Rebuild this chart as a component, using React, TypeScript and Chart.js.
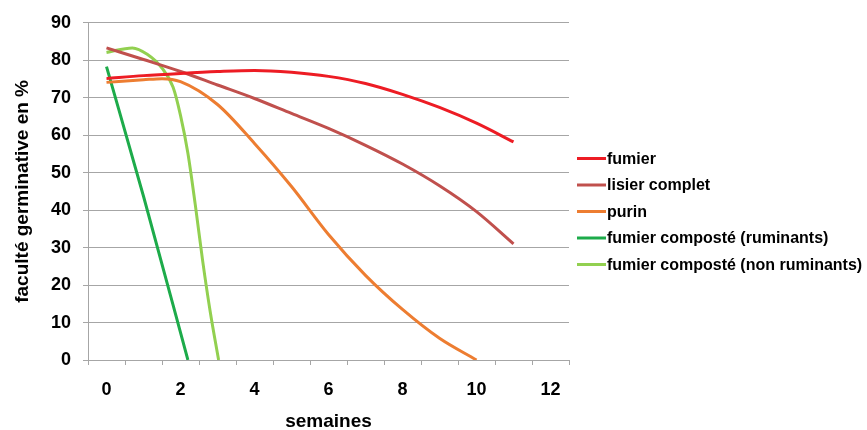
import React, { useEffect, useRef } from "react";
import { Chart, registerables } from "chart.js";

Chart.register(...registerables);

// ---- data ----
const seriesNames = [
  "fumier",
  "lisier complet",
  "purin",
  "fumier composté (ruminants)",
  "fumier composté (non ruminants)",
];
const seriesColors = ["#ED1C24", "#C0504D", "#ED7D31", "#1DAB4A", "#92D050"];

const fumierWeeks = [0, 1, 2, 3, 4, 5, 6, 7, 8, 9, 10, 11];
const fumierValues = [75.1, 75.9, 76.5, 77.0, 77.3, 76.8, 75.7, 73.8, 70.9, 67.4, 63.2, 58.2];

const lisierWeeks = [0, 1, 2, 3, 4, 5, 6, 7, 8, 9, 10, 11];
const lisierValues = [83.3, 80.2, 77.0, 73.4, 69.8, 65.8, 61.8, 57.3, 52.3, 46.5, 39.6, 31.0];

const purinWeeks = [0, 1, 1.5, 2, 3, 4, 5, 6, 7, 8, 9, 10];
const purinValues = [74.1, 74.8, 75.1, 74.3, 68.2, 57.8, 46.3, 33.5, 22.6, 13.5, 5.8, 0];

const rumWeeks = [0, 1, 2.2];
const rumValues = [78.3, 43.7, 0];

const nonRumWeeks = [0, 0.7, 1.1, 1.5, 1.8, 2, 2.2, 2.4, 2.6, 2.8, 3.03];
const nonRumValues = [82.1, 83.3, 81.6, 77.9, 72.8, 65.3, 55.2, 41.4, 26.4, 13.1, 0];

const xLabelValues = [0, 2, 4, 6, 8, 10, 12];
const yTickValues = [0, 10, 20, 30, 40, 50, 60, 70, 80, 90];

const xTitle = "semaines";
const yTitle = "faculté germinative en %";

const seriesWeeks = [fumierWeeks, lisierWeeks, purinWeeks, rumWeeks, nonRumWeeks];
const seriesValues = [fumierValues, lisierValues, purinValues, rumValues, nonRumValues];

const FONT = '"Liberation Sans", Arial, Helvetica, sans-serif';
const GRID = "#A6A6A6";

const rightLegend = {
  id: "rightLegend",
  afterDraw(chart: any) {
    const ctx = chart.ctx;
    const x0 = chart.chartArea.right + 8;
    ctx.save();
    ctx.font = `bold 16px ${FONT}`;
    ctx.textBaseline = "middle";
    ctx.textAlign = "left";
    chart.data.datasets.forEach((ds: any, i: number) => {
      const y = 158.5 + i * 26.5;
      ctx.strokeStyle = ds.borderColor;
      ctx.lineWidth = 3;
      ctx.lineCap = "butt";
      ctx.beginPath();
      ctx.moveTo(x0, y);
      ctx.lineTo(x0 + 29, y);
      ctx.stroke();
      ctx.fillStyle = "#000";
      ctx.fillText(ds.label, x0 + 30, y + 1);
    });
    ctx.restore();
  },
};

export default function App() {
  const ref = useRef<HTMLCanvasElement | null>(null);

  useEffect(() => {
    if (!ref.current) return;
    const datasets = seriesNames.map((name, i) => ({
      label: name,
      data: seriesWeeks[i].map((w, j) => ({ x: w, y: seriesValues[i][j] })),
      borderColor: seriesColors[i],
      backgroundColor: seriesColors[i],
      borderWidth: 3,
      pointRadius: 0,
      cubicInterpolationMode: "monotone",
      fill: false,
    }));

    const chart = new Chart(ref.current, {
      type: "line",
      data: { datasets },
      plugins: [rightLegend],
      options: {
        animation: false,
        responsive: true,
        maintainAspectRatio: false,
        layout: { padding: { top: 17, right: 298, bottom: 0, left: 0 } },
        plugins: {
          legend: { display: false },
          tooltip: { enabled: false },
        },
        scales: {
          x: {
            type: "linear",
            min: -0.5,
            max: 12.5,
            afterBuildTicks: (scale: any) => {
              const t: any[] = [];
              for (let k = -1; k <= 25; k++) t.push({ value: k / 2 });
              scale.ticks = t;
            },
            afterFit: (scale: any) => {
              scale.height = 70;
            },
            ticks: {
              autoSkip: false,
              maxRotation: 0,
              padding: 14,
              color: "#000",
              font: { family: FONT, size: 18, weight: "bold" },
              callback: (v: any) => (xLabelValues.includes(Number(v)) ? String(v) : ""),
            },
            grid: {
              drawOnChartArea: false,
              drawTicks: true,
              tickLength: 5,
              color: (c: any) =>
                c.tick && Number.isInteger(c.tick.value) ? "rgba(0,0,0,0)" : GRID,
            },
            border: { display: true, color: GRID, width: 1 },
            title: {
              display: true,
              text: xTitle,
              color: "#000",
              font: { family: FONT, size: 19, weight: "bold" },
              padding: { top: 0, bottom: -3 },
            },
          },
          y: {
            type: "linear",
            min: 0,
            max: 90,
            afterBuildTicks: (scale: any) => {
              scale.ticks = yTickValues.map((v) => ({ value: v }));
            },
            afterFit: (scale: any) => {
              scale.width = 88;
            },
            ticks: {
              padding: 12,
              color: "#000",
              font: { family: FONT, size: 18, weight: "bold" },
            },
            grid: {
              color: GRID,
              lineWidth: 1,
              tickLength: 5,
            },
            border: { display: true, color: GRID, width: 1 },
            title: {
              display: true,
              text: yTitle,
              color: "#000",
              font: { family: FONT, size: 19, weight: "bold" },
              padding: { top: 11, bottom: 0 },
            },
          },
        },
      },
    } as any);
    return () => chart.destroy();
  }, []);

  return (
    <div style={{ position: "absolute", left: 0, top: 0, width: 867, height: 430 }}>
      <canvas ref={ref} />
    </div>
  );
}
